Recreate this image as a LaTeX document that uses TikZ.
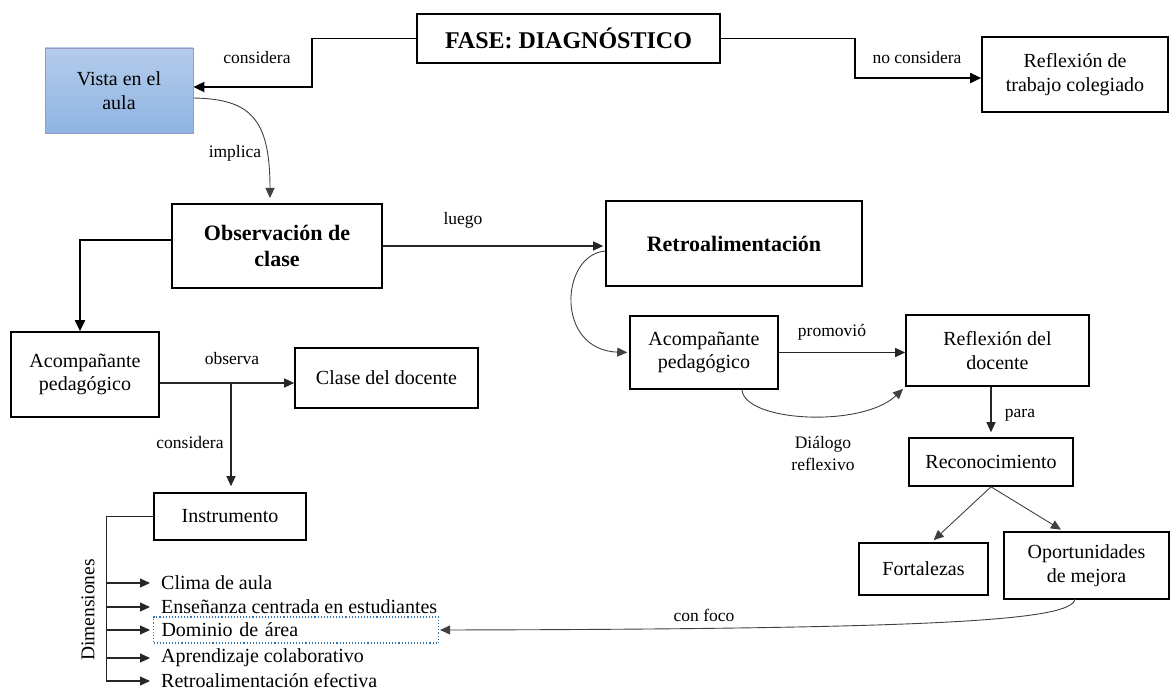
\documentclass[tikz,border=0pt]{standalone}
\usepackage{fontspec}
\setmainfont{Liberation Serif}
\usetikzlibrary{arrows.meta}

\newcommand\bodyfs{\fontsize{20}{23.5}\selectfont}
\newcommand\labfs{\fontsize{17.5}{22}\selectfont}
\newcommand\boldfs{\fontsize{22}{26}\selectfont\bfseries}

\begin{document}
\begin{tikzpicture}[x=1pt,y=-1pt,
  box/.style={draw=black, line width=1.6pt, align=center, inner sep=0pt, font=\bodyfs},
  ttl/.style={box, font=\boldfs},
  lab/.style={font=\labfs, inner sep=0pt, align=center},
  item/.style={anchor=west, inner xsep=8pt, inner ysep=0pt, font=\bodyfs, minimum height=24pt},
  thick line/.style={line width=1.8pt, -{Triangle[length=11pt,width=10pt]}},
  thin line/.style={line width=1.1pt, draw=black!85, -{Triangle[length=10pt,width=9pt]}},
  curve line/.style={line width=0.9pt, draw=black!75, -{Triangle[length=10pt,width=9pt]}},
  plain line/.style={line width=1pt, draw=black!85}
]
\useasboundingbox (0,0) rectangle (1176,690);

% ---------- boxes ----------
\node[ttl, font=\fontsize{24}{28}\selectfont\bfseries, minimum width=303pt, minimum height=49pt] (fase) at (568.5,38.5) {FASE: DIAGNÓSTICO};
\node[box, draw=blue!35!gray!60, line width=0.8pt, top color={rgb,255:red,180;green,204;blue,234}, bottom color={rgb,255:red,143;green,180;blue,227}, minimum width=148pt, minimum height=85pt] (vista) at (119,90.5) {Vista en el\\aula};
\node[box, minimum width=186pt, minimum height=75pt] (refcol) at (1075,74.5) {Reflexión de\\trabajo colegiado};
\node[ttl, minimum width=210pt, minimum height=84pt] (obs) at (277,246) {Observación de\\clase};
\node[ttl, minimum width=256pt, minimum height=85pt] (retro) at (734,243.5) {Retroalimentación};
\node[box, minimum width=148pt, minimum height=85pt] (acomp1) at (85,374.5) {Acompañante\\pedagógico};
\node[box, minimum width=183pt, minimum height=60pt] (clase) at (386.5,378) {Clase del docente};
\node[box, minimum width=152pt, minimum height=47pt] (instr) at (230,516.5) {Instrumento};
\node[box, minimum width=148pt, minimum height=73pt] (acomp2) at (704,352.5) {Acompañante\\pedagógico};
\node[box, minimum width=183pt, minimum height=71pt] (refdoc) at (997.5,350.5) {Reflexión del\\docente};
\node[box, minimum width=164pt, minimum height=48pt] (recon) at (991,462) {Reconocimiento};
\node[box, minimum width=129pt, minimum height=52pt] (fort) at (923.5,569) {Fortalezas};
\node[box, minimum width=165pt, minimum height=67pt] (oport) at (1086.5,565.5) {Oportunidades\\de mejora};

% ---------- dimensions of the instrument ----------
\node[item] (d1) at (153,583) {Clima de aula};
\node[item] (d2) at (153,607) {Enseñanza centrada en estudiantes};
\node[item, draw={rgb,255:red,46;green,117;blue,182}, line width=1.1pt, dotted, text width=269pt, align=left, minimum height=26pt] (d3) at (153,630) {Dominio de área};
\node[item] (d4) at (153,658) {Aprendizaje colaborativo};
\node[item] (d5) at (153,681) {Retroalimentación efectiva};
\node[lab, font=\fontsize{19.5}{22}\selectfont, rotate=90] (dim) at (88,610) {Dimensiones};

\coordinate (bx) at (106,681);
\draw[plain line] (instr.west) -| (bx);
\foreach \d in {d1,d2,d3,d4,d5}
  \draw[thin line, shorten >=3pt] (bx|-\d.west) -- (\d.west);

% ---------- connectors ----------
\coordinate (k1) at (312,87);
\draw[thick line] (fase.west) -| (k1) -- (vista.east|-k1);
\node[lab] (l1) at (257,58) {considera};

\coordinate (k2) at (855,78);
\draw[thick line] (fase.east) -| (k2) -- (refcol.west|-k2);
\node[lab] (l2) at (917,58) {no considera};

\coordinate (k3) at (270,198);
\draw[curve line] (vista.east|-0,98) .. controls (250,99) and (270,118) .. (k3);
\node[lab] (l3) at (235,153) {implica};

\coordinate (k4) at (80,240);
\draw[thick line] (obs.west|-k4) -- (k4) -- (k4|-acomp1.north);

\draw[thin line, shorten >=2pt] (obs.east) -- (obs.east-|retro.west);
\node[lab] (l4) at (463,220) {luego};

\coordinate (k5) at (231,383);
\draw[thin line] (acomp1.east|-k5) -- (clase.west|-k5);
\draw[thin line, shorten >=6pt] (k5) -- (k5|-instr.north);
\node[lab] (l5) at (232,359) {observa};
\node[lab] (l6) at (190,443) {considera};

\draw[curve line, shorten >=2pt] (retro.west|-0,251) .. controls (560,255) and (555,350) .. (acomp2.west);

\draw[thin line] (acomp2.east) -- (acomp2.east-|refdoc.west);
\node[lab] (l7) at (832,332) {promovió};

\coordinate (k6) at (742,390);
\draw[curve line, shorten >=3pt] (k6) .. controls (745,422) and (862,428) .. (refdoc.south west);
\node[lab] (l8) at (823,453) {Diálogo\\reflexivo};

\draw[thin line, shorten >=5pt] (recon.north|-refdoc.south) -- (recon.north);
\node[lab] (l9) at (1020,415) {para};

\draw[curve line, shorten >=3pt] (recon.south) -- ([xshift=8pt]fort.north);
\draw[curve line, shorten >=3pt] (recon.south) -- ([xshift=-23pt]oport.north);

\coordinate (k7) at (1075,599);
\draw[curve line, shorten >=1pt] (k7) .. controls (1072,620) and (950,629) .. (d3.east);
\node[lab] (l10) at (704,615) {con foco};
\end{tikzpicture}
\end{document}
